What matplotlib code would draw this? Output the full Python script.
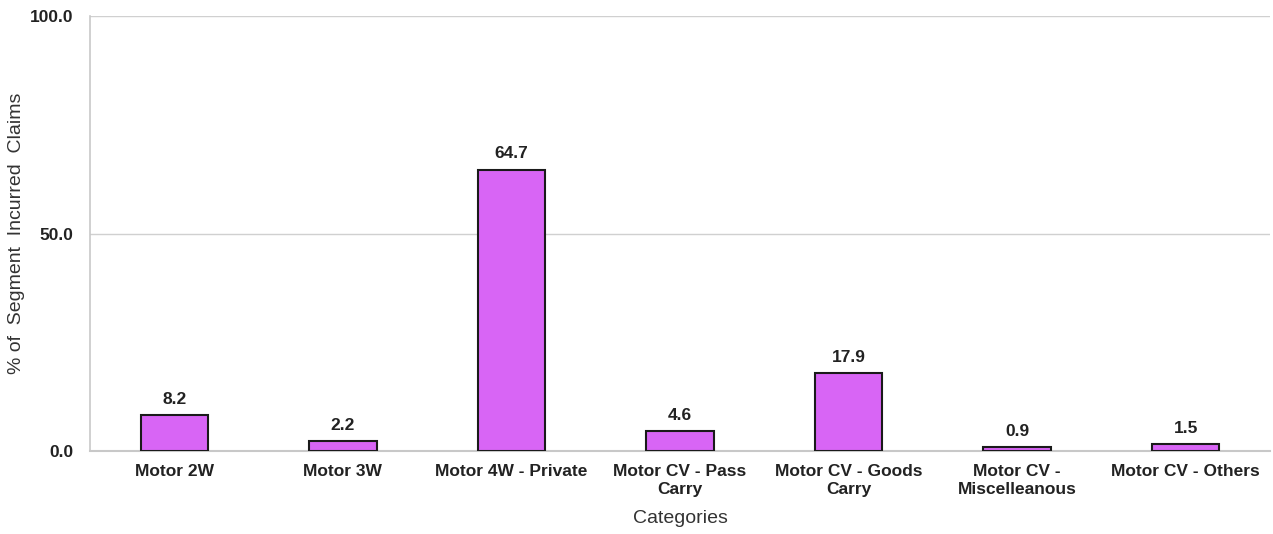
import matplotlib
matplotlib.use("Agg")
import matplotlib.pyplot as plt

plt.rcParams['font.family'] = ['Liberation Sans', 'DejaVu Sans']

categories = ["Motor 2W", "Motor 3W", "Motor 4W - Private", "Motor CV - Pass\nCarry",
              "Motor CV - Goods\nCarry", "Motor CV -\nMiscelleanous", "Motor CV - Others"]
values = [8.2, 2.2, 64.7, 4.6, 17.9, 0.9, 1.5]
yticks = [0.0, 50.0, 100.0]

fig = plt.figure(figsize=(12.73, 5.34), dpi=100)
ax = fig.add_axes([0.0707, 0.1554, 0.927, 0.8146])

x = list(range(len(categories)))
ax.bar(x, values, width=0.40, color="#D865F5", edgecolor="#1a1a1a", linewidth=1.5, zorder=3)

for xi, v in zip(x, values):
    ax.annotate(f"{v:.1f}", (xi, v), xytext=(0, 6), textcoords="offset points",
                ha="center", va="bottom", fontsize=12.5, fontweight="bold", color="#222222")

ax.set_xlim(-0.5, len(categories) - 0.5)
ax.set_ylim(0, 100)
ax.set_yticks(yticks)
ax.set_yticklabels([f"{t:.1f}" for t in yticks], fontsize=12.5, fontweight="bold", color="#222222")
ax.set_xticks(x)
ax.set_xticklabels(categories, fontsize=12.5, fontweight="bold", color="#222222", linespacing=1.3)
ax.tick_params(axis="x", length=0, pad=9)
ax.tick_params(axis="y", length=0, pad=12)

ax.yaxis.grid(True, color="#d0d0d0", linewidth=1.0, zorder=0)
for side in ("top", "right"):
    ax.spines[side].set_visible(False)
ax.spines["left"].set_color("#c8c8c8")
ax.spines["bottom"].set_color("#c8c8c8")
ax.spines["left"].set_linewidth(1.2)
ax.spines["bottom"].set_linewidth(1.5)

ax.set_xlabel("Categories", fontsize=14, color="#333333")
ax.xaxis.set_label_coords(0.5, -0.135)
ax.set_ylabel("% of  Segment  Incurred  Claims", fontsize=14, color="#333333")
ax.yaxis.set_label_coords(-0.055, 0.5)

fig.savefig("out.png", dpi=100)
